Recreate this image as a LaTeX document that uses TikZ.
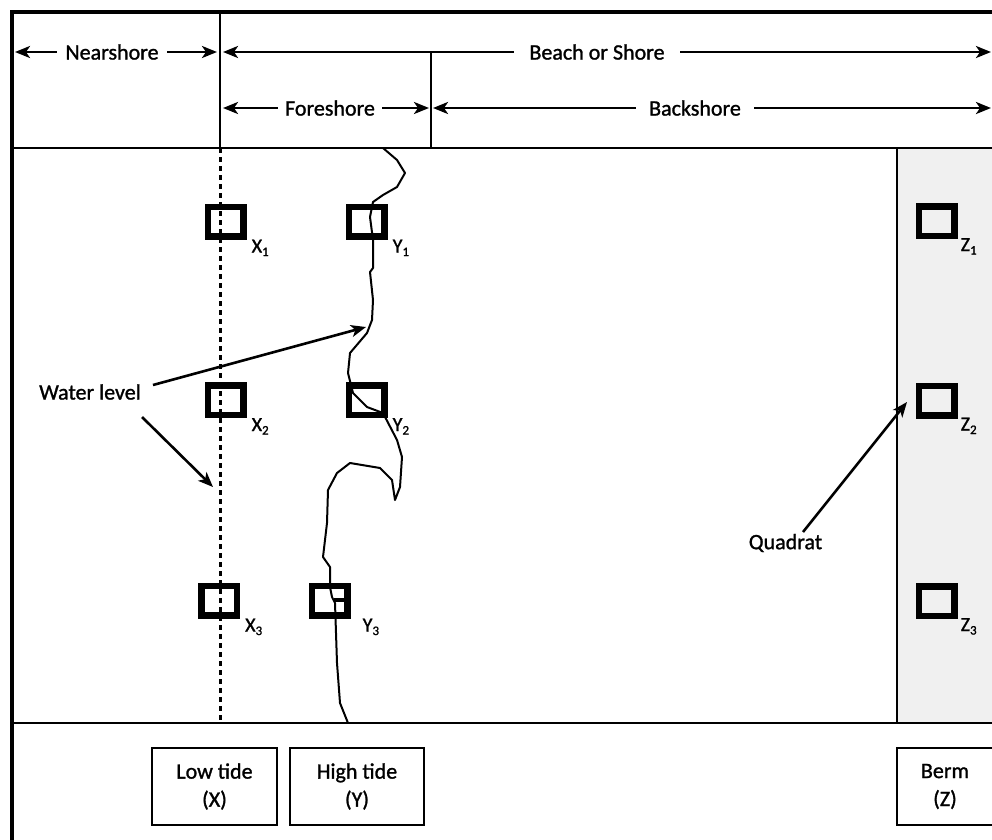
\documentclass[tikz,border=0pt]{standalone}
\usepackage{fontspec}
\setmainfont{Carlito}[RawFeature={embolden=1.2}]
\usetikzlibrary{arrows.meta}
\definecolor{bermgray}{HTML}{F0F0F0}
\newcommand\qsub[2]{#1\lower3.5pt\hbox{\fontsize{13}{13}\selectfont #2}}
\begin{document}
\begin{tikzpicture}[x=1pt,y=-1pt,
  tip/.tip={Stealth[length=15pt,width=12pt,inset=4pt]},
  arr/.style={line width=2.6pt,-tip},
  darr/.style={line width=2.6pt,tip-tip},
  lab/.style={font=\fontsize{22}{26}\selectfont, fill=white, inner xsep=8pt, inner ysep=2pt},
  plain/.style={font=\fontsize{22}{26}\selectfont, inner sep=0pt},
  quad/.style={draw, line width=6.5pt, minimum width=35.5pt, minimum height=29.5pt, inner sep=0pt},
  qlab/.style={anchor=base west, inner sep=0pt, font=\fontsize{20}{22}\selectfont},
  tidebox/.style={draw, line width=1.8pt, align=center, inner sep=0pt,
    font=\fontsize{22}{28}\selectfont, minimum height=77pt},
]
\useasboundingbox (0,0) rectangle (992,839);
\clip (0,0) rectangle (992,839);
% berm shading
\fill[bermgray] (897,148) rectangle (1005,723);
% frame and grid lines
\draw[line width=3.5pt] (12,850) -- (12,12) -- (1005,12);
\draw[line width=2.5pt] (12,148) -- (1005,148);
\draw[line width=2.5pt] (12,723) -- (1005,723);
\draw[line width=2.5pt] (220,12) -- (220,148);
\draw[line width=2.2pt] (431,52) -- (431,148);
\draw[line width=1.8pt] (897,148) -- (897,723);
% low tide water level (dotted)
\draw[line width=3pt, dash pattern=on 5pt off 4pt] (220,148) -- (220,723);
% header arrows
\coordinate (n1) at (15,52);   \coordinate (n2) at (217,52);
\coordinate (b1) at (223,52);  \coordinate (b2) at (991,52);
\coordinate (f1) at (223,108); \coordinate (f2) at (429,108);
\coordinate (k1) at (433,108); \coordinate (k2) at (991,108);
\draw[darr] (n1) -- (n2);
\draw[darr] (b1) -- (b2);
\draw[darr] (f1) -- (f2);
\draw[darr] (k1) -- (k2);
\node[lab] (tnear) at (112,52) {Nearshore};
\node[lab, inner xsep=15pt] (tbeach) at (597,52) {Beach or Shore};
\node[lab, inner xsep=7pt] (tfore) at (330,108) {Foreshore};
\node[lab, inner xsep=13pt] (tback) at (695,108) {Backshore};
% high tide shoreline
\draw[line width=2pt, line join=round, line cap=round]
  (383,148) -- (397,160) -- (405,173) -- (397,187) -- (383,195) -- (373,202)
  -- (370,217) -- (373,240) -- (373,268) -- (370,272) -- (373,300) -- (372,320)
  -- (367,333) -- (350,353) -- (348,373) -- (353,393) -- (367,407) -- (383,413)
  -- (397,440) -- (402,457) -- (400,487) -- (395,500) -- (392,480) -- (380,468)
  -- (350,463) -- (337,473) -- (328,490) -- (327,523) -- (323,557) -- (330,567)
  -- (330,587) -- (332,597) -- (335,603) -- (337,663) -- (340,703) -- (348,723);
\draw[line width=4.5pt] (334,600) -- (348,600);
% quadrats
\node[quad] (x1) at (225.5,221.5) {};
\node[quad] (x2) at (225.5,400) {};
\node[quad] (x3) at (219,600.5) {};
\node[quad] (y1) at (366.5,221.5) {};
\node[quad] (y2) at (366.5,400) {};
\node[quad] (y3) at (329.5,600.5) {};
\node[quad] (z1) at (936.5,221) {};
\node[quad] (z2) at (936.5,400.5) {};
\node[quad] (z3) at (936.5,601) {};
\node[qlab] (lx1) at ([xshift=5pt,yshift=-13pt]x1.south east) {\qsub{X}{1}};
\node[qlab] (lx2) at ([xshift=5pt,yshift=-13pt]x2.south east) {\qsub{X}{2}};
\node[qlab] (lx3) at ([xshift=5pt,yshift=-13pt]x3.south east) {\qsub{X}{3}};
\node[qlab] (ly1) at ([xshift=5pt,yshift=-13pt]y1.south east) {\qsub{Y}{1}};
\node[qlab] (ly2) at ([xshift=5pt,yshift=-13pt]y2.south east) {\qsub{Y}{2}};
\node[qlab] (ly3) at ([xshift=12pt,yshift=-13pt]y3.south east) {\qsub{Y}{3}};
\node[qlab] (lz1) at ([xshift=3pt,yshift=-12pt]z1.south east) {\qsub{Z}{1}};
\node[qlab] (lz2) at ([xshift=3pt,yshift=-12pt]z2.south east) {\qsub{Z}{2}};
\node[qlab] (lz3) at ([xshift=3pt,yshift=-12pt]z3.south east) {\qsub{Z}{3}};
% water level annotation
\node[plain] (wl) at (90,392) {Water level};
\coordinate (wlA) at (153,385); \coordinate (wlT1) at (366,327);
\coordinate (wlB) at (142,417); \coordinate (wlT2) at (213,487);
\draw[arr] (wlA) -- (wlT1);
\draw[arr] (wlB) -- (wlT2);
% quadrat annotation
\node[plain] (qd) at (785.5,543) {Quadrat};
\coordinate (qA) at (803,532); \coordinate (qT) at (907,402);
\draw[arr] (qA) -- (qT);
% bottom legend boxes
\node[tidebox, minimum width=125pt] (low) at (214.5,786.5) {Low tide\\(X)};
\node[tidebox, minimum width=134pt] (high) at (357,786.5) {High tide\\(Y)};
\node[tidebox, minimum width=96pt] (berm) at (945,786.5) {Berm\\(Z)};
\end{tikzpicture}
\end{document}
